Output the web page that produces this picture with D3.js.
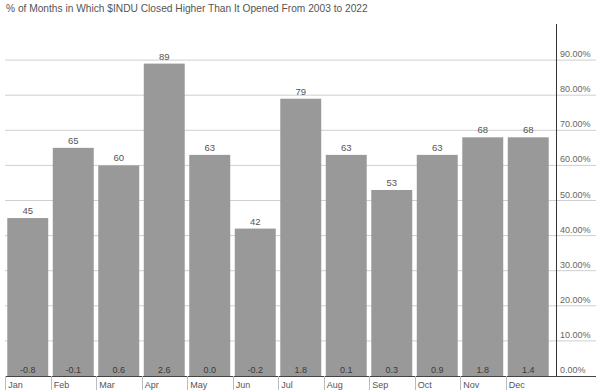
<!DOCTYPE html>
<html>
<head>
<meta charset="utf-8">
<script src="https://cdn.jsdelivr.net/npm/d3@7"></script>
<style>
  body { margin: 0; background: #fff; }
  svg { display: block; font-family: 'Liberation Sans', Arial, sans-serif; }
</style>
</head>
<body>
<div id="chart"></div>
<script>
var months = ['Jan', 'Feb', 'Mar', 'Apr', 'May', 'Jun', 'Jul', 'Aug', 'Sep', 'Oct', 'Nov', 'Dec'];
var pctHigher = [45, 65, 60, 89, 63, 42, 79, 63, 53, 63, 68, 68];
var avgReturn = [-0.8, -0.1, 0.6, 2.6, 0.0, -0.2, 1.8, 0.1, 0.3, 0.9, 1.8, 1.4];
var yTicks = [0, 10, 20, 30, 40, 50, 60, 70, 80, 90];
var title = '% of Months in Which $INDU Closed Higher Than It Opened From 2003 to 2022';

var width = 600;
var height = 392;
var margins = { top: 25, right: 5, bottom: 16, left: 5 };
var axisX = 556;
var baseY = height - margins.bottom;

var svg = d3.select('#chart').append('svg')
  .attr('width', width)
  .attr('height', height);

var data = months.map(function(m, i) {
  return { name: m, value: pctHigher[i], ret: avgReturn[i] };
});

var xScale = d3.scaleBand()
  .domain(months)
  .range([margins.left, 551])
  .paddingInner(0.1)
  .paddingOuter(0.05);

var yScale = d3.scaleLinear()
  .domain([0, 100])
  .range([baseY, margins.top]);

// title
svg.append('text')
  .attr('x', 6)
  .attr('y', 12)
  .attr('font-size', 10.2)
  .attr('fill', '#555')
  .text(title);

// gridlines
svg.append('g')
  .selectAll('line')
  .data(yTicks.slice(1))
  .join('line')
  .attr('x1', margins.left)
  .attr('x2', width - 4)
  .attr('y1', function(d) { return yScale(d); })
  .attr('y2', function(d) { return yScale(d); })
  .attr('stroke', '#cfcfcf')
  .attr('stroke-width', 1);

// bars
svg.append('g')
  .selectAll('rect')
  .data(data)
  .join('rect')
  .attr('x', function(d) { return xScale(d.name); })
  .attr('y', function(d) { return yScale(d.value); })
  .attr('width', xScale.bandwidth())
  .attr('height', function(d) { return baseY - yScale(d.value); })
  .attr('fill', '#999999');

// value labels on top
svg.append('g')
  .selectAll('text')
  .data(data)
  .join('text')
  .attr('x', function(d) { return xScale(d.name) + xScale.bandwidth() / 2; })
  .attr('y', function(d) { return yScale(d.value) - 4; })
  .attr('text-anchor', 'middle')
  .attr('font-size', 9.5)
  .attr('fill', '#555')
  .text(function(d) { return d.value; });

// avg return labels inside bars
svg.append('g')
  .selectAll('text')
  .data(data)
  .join('text')
  .attr('x', function(d) { return xScale(d.name) + xScale.bandwidth() / 2; })
  .attr('y', baseY - 3)
  .attr('text-anchor', 'middle')
  .attr('font-size', 9)
  .attr('fill', '#3a3a3a')
  .text(function(d) { return d.ret.toFixed(1); });

// right axis line
svg.append('line')
  .attr('x1', axisX + 0.5)
  .attr('x2', axisX + 0.5)
  .attr('y1', margins.top - 1)
  .attr('y2', baseY)
  .attr('stroke', '#333')
  .attr('stroke-width', 1);

// baseline
svg.append('line')
  .attr('x1', margins.left)
  .attr('x2', width - 4)
  .attr('y1', baseY + 0.5)
  .attr('y2', baseY + 0.5)
  .attr('stroke', '#444')
  .attr('stroke-width', 1);

// right axis labels
svg.append('g')
  .selectAll('text')
  .data(yTicks)
  .join('text')
  .attr('x', axisX + 4)
  .attr('y', function(d) { return yScale(d) - 3; })
  .attr('font-size', 9)
  .attr('fill', '#666')
  .text(function(d) { return d3.format('.2f')(d) + '%'; });

// month separators and labels
var xAxis = svg.append('g');
xAxis.selectAll('line')
  .data(months)
  .join('line')
  .attr('x1', function(d) { return Math.round(xScale(d)) - 1.5; })
  .attr('x2', function(d) { return Math.round(xScale(d)) - 1.5; })
  .attr('y1', baseY)
  .attr('y2', height - 2)
  .attr('stroke', '#bbb');

xAxis.selectAll('text')
  .data(months)
  .join('text')
  .attr('x', function(d) { return xScale(d) + 1; })
  .attr('y', baseY + 12)
  .attr('font-size', 9)
  .attr('fill', '#555')
  .text(function(d) { return d; });
</script>
</body>
</html>
